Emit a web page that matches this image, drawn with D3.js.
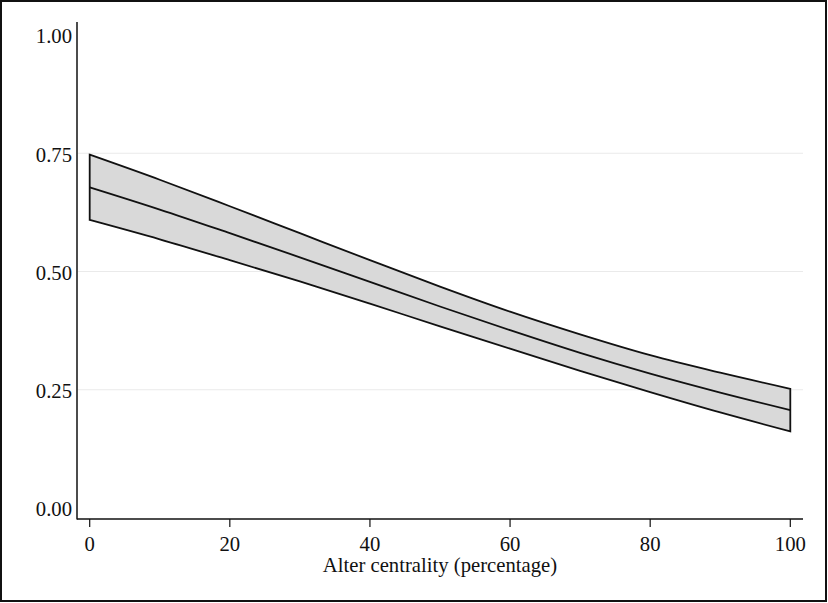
<!DOCTYPE html>
<html>
<head>
<meta charset="utf-8">
<script src="https://cdn.jsdelivr.net/npm/d3@7"></script>
<style>
  body { margin: 0; background: #fff; }
  svg { display: block; }
  text { font-family: "Liberation Serif", "Times New Roman", serif; fill: #111; }
</style>
</head>
<body>
<script>
// Data
const centrality = [0, 10, 20, 30, 40, 50, 60, 70, 80, 90, 100];
const predicted  = [0.678, 0.631, 0.581, 0.530, 0.478, 0.426, 0.376, 0.328, 0.284, 0.244, 0.207];
const upperCI    = [0.747, 0.694, 0.638, 0.581, 0.524, 0.468, 0.415, 0.367, 0.323, 0.286, 0.252];
const lowerCI    = [0.609, 0.568, 0.524, 0.479, 0.432, 0.384, 0.337, 0.290, 0.245, 0.202, 0.162];
const xTicks = [0, 20, 40, 60, 80, 100];
const yTicks = [0, 0.25, 0.5, 0.75, 1];
const gridTicks = [0.25, 0.5, 0.75];
const xTitle = "Alter centrality (percentage)";

const width = 828, height = 603;
const axisLeft = 77, axisRight = 803, axisTop = 22, axisBottom = 519;
const fontSize = "20.7px";

const svg = d3.select("body").append("svg")
    .attr("width", width)
    .attr("height", height);

// outer frame
svg.append("rect")
    .attr("x", 1).attr("y", 1)
    .attr("width", 825).attr("height", 600)
    .attr("fill", "#fff")
    .attr("stroke", "#111")
    .attr("stroke-width", 2);

const x = d3.scaleLinear().domain([0, 100]).range([89.7, 790.3]);
const y = d3.scaleLinear().domain([0, 1]).range([508, 35]);

const data = centrality.map((c, i) => ({
    c, p: predicted[i], hi: upperCI[i], lo: lowerCI[i]
}));

// gridlines
svg.append("g")
    .selectAll("line")
    .data(gridTicks)
    .join("line")
    .attr("x1", axisLeft + 1).attr("x2", axisRight)
    .attr("y1", d => y(d)).attr("y2", d => y(d))
    .attr("stroke", "#eaeaea")
    .attr("stroke-width", 1);

// confidence band (filled polygon with outline)
const band = d3.area()
    .x(d => x(d.c))
    .y0(d => y(d.lo))
    .y1(d => y(d.hi))
    .curve(d3.curveMonotoneX);

svg.append("path")
    .attr("d", band(data) + "Z")
    .attr("fill", "#d9d9d9")
    .attr("stroke", "#111")
    .attr("stroke-width", 1.8)
    .attr("stroke-linejoin", "miter");

// predicted line
svg.append("path")
    .datum(data)
    .attr("d", d3.line().x(d => x(d.c)).y(d => y(d.p)).curve(d3.curveMonotoneX))
    .attr("fill", "none")
    .attr("stroke", "#111")
    .attr("stroke-width", 1.8);

// axes lines
svg.append("line")
    .attr("x1", axisLeft).attr("x2", axisLeft)
    .attr("y1", axisTop).attr("y2", axisBottom + 0.5)
    .attr("stroke", "#111").attr("stroke-width", 1.5);
svg.append("line")
    .attr("x1", axisLeft).attr("x2", axisRight)
    .attr("y1", axisBottom).attr("y2", axisBottom)
    .attr("stroke", "#111").attr("stroke-width", 1.5);

// y tick labels
svg.append("g")
    .selectAll("text")
    .data(yTicks)
    .join("text")
    .attr("x", 72)
    .attr("y", d => y(d))
    .attr("dy", "0.41em")
    .attr("text-anchor", "end")
    .style("font-size", fontSize)
    .text(d => d3.format(".2f")(d));

// x ticks
const xt = svg.append("g")
    .selectAll("g")
    .data(xTicks)
    .join("g")
    .attr("transform", d => `translate(${x(d)},0)`);
xt.append("line")
    .attr("y1", axisBottom).attr("y2", axisBottom + 8)
    .attr("stroke", "#111").attr("stroke-width", 1.2);
xt.append("text")
    .attr("y", 550.8)
    .attr("text-anchor", "middle")
    .style("font-size", fontSize)
    .text(d => d);

// x title
svg.append("text")
    .attr("x", (axisLeft + axisRight) / 2)
    .attr("y", 571.8)
    .attr("text-anchor", "middle")
    .style("font-size", fontSize)
    .text(xTitle);
</script>
</body>
</html>
